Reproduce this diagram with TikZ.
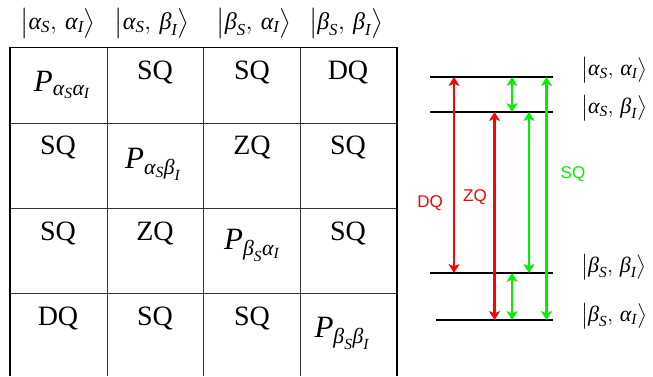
\documentclass[tikz,border=0pt]{standalone}
\usepackage{amsmath}
\usepackage{fontspec}
\setmainfont{Liberation Serif}
\newfontfamily\labelsans{Liberation Sans}
\usetikzlibrary{arrows.meta}
\definecolor{myred}{RGB}{255,0,0}
\definecolor{mygreen}{RGB}{0,240,0}
\newcommand{\myal}{\text{\itshape α}}
\newcommand{\mybe}{\text{\itshape β}}
\newcommand{\myS}{\text{\itshape S}}
\newcommand{\myI}{\text{\itshape I}}
\newcommand{\myP}{\text{\itshape P}}
\newcommand{\myket}[2]{\bigl|#1,\,#2\bigr\rangle}
\tikzset{
  cell/.style={inner sep=0pt, font=\fontsize{28}{32}\selectfont},
  pcell/.style={inner sep=0pt, font=\fontsize{31}{34}\selectfont},
  hket/.style={inner sep=0pt, font=\fontsize{24}{28}\selectfont},
  rket/.style={inner sep=0pt, font=\fontsize{22}{26}\selectfont},
  tlab/.style={inner sep=0pt, font=\labelsans\fontsize{17}{20}\selectfont},
  grid/.style={line width=0.9pt, black!80},
  outer/.style={line width=1.8pt, black},
  level/.style={line width=2pt, black},
  tr2/.style={line width=2.2pt, {Stealth[length=9pt,width=11pt,inset=2.5pt]}-{Stealth[length=9pt,width=11pt,inset=2.5pt]}},
}
\begin{document}
\begin{tikzpicture}[x=1pt,y=-1pt]
\useasboundingbox (0,0) rectangle (653,376);
% grid
\draw[grid] (107,48) -- (107,376);
\draw[grid] (203,48) -- (203,376);
\draw[grid] (300,48) -- (300,376);
\draw[grid] (10,123.5) -- (397,123.5);
\draw[grid] (10,208.5) -- (397,208.5);
\draw[grid] (10,293.5) -- (397,293.5);
\draw[outer] (10,376) -- (10,47.5) -- (397,47.5) -- (397,376);
% headers
\node[hket] (h1) at (58,23) {$\myket{\myal_\myS}{\myal_\myI}$};
\node[hket] (h2) at (152,23) {$\myket{\myal_\myS}{\mybe_\myI}$};
\node[hket] (h3) at (254,23) {$\myket{\mybe_\myS}{\myal_\myI}$};
\node[hket] (h4) at (346,23) {$\myket{\mybe_\myS}{\mybe_\myI}$};
% row 1
\node[pcell] (p11) at (62,85) {$\myP_{\myal_\myS\myal_\myI}$};
\node[cell] (c12) at (155,72) {SQ};
\node[cell] (c13) at (252,72) {SQ};
\node[cell] (c14) at (348,72) {DQ};
% row 2
\node[cell] (c21) at (58,147) {SQ};
\node[pcell] (p22) at (153,164) {$\myP_{\myal_\myS\mybe_\myI}$};
\node[cell] (c23) at (252,147) {ZQ};
\node[cell] (c24) at (348,147) {SQ};
% row 3
\node[cell] (c31) at (58,233) {SQ};
\node[cell] (c32) at (155,233) {ZQ};
\node[pcell] (p33) at (252,245) {$\myP_{\mybe_\myS\myal_\myI}$};
\node[cell] (c34) at (348,233) {SQ};
% row 4
\node[cell] (c41) at (58,318) {DQ};
\node[cell] (c42) at (155,318) {SQ};
\node[cell] (c43) at (252,318) {SQ};
\node[pcell] (p44) at (342,333) {$\myP_{\mybe_\myS\mybe_\myI}$};
% energy levels
\coordinate (L1a) at (430,77); \coordinate (L1b) at (553,77);
\coordinate (L2a) at (430,112); \coordinate (L2b) at (553,112);
\coordinate (L3a) at (430,273); \coordinate (L3b) at (553,273);
\coordinate (L4a) at (436,320); \coordinate (L4b) at (553,320);
\draw[level] (L1a) -- (L1b);
\draw[level] (L2a) -- (L2b);
\draw[level] (L3a) -- (L3b);
\draw[level] (L4a) -- (L4b);
\node[rket, anchor=west] (k1) at (581,70) {$\myket{\myal_\myS}{\myal_\myI}$};
\node[rket, anchor=west] (k2) at (581,108) {$\myket{\myal_\myS}{\mybe_\myI}$};
\node[rket, anchor=west] (k3) at (581,267) {$\myket{\mybe_\myS}{\mybe_\myI}$};
\node[rket, anchor=west] (k4) at (581,316) {$\myket{\mybe_\myS}{\myal_\myI}$};
% arrow columns
\coordinate (xDQ) at (454,0);
\coordinate (xZQ) at (494.5,0);
\coordinate (xG1) at (512,0);
\coordinate (xG2) at (529,0);
\coordinate (xG3) at (546.5,0);
\draw[tr2, myred] (xDQ |- L3a) -- (xDQ |- L1a);
\draw[tr2, myred] (xZQ |- L2a) -- (xZQ |- L4a);
\draw[tr2, mygreen] (xG1 |- L1a) -- (xG1 |- L2a);
\draw[tr2, mygreen] (xG2 |- L2a) -- (xG2 |- L3a);
\draw[tr2, mygreen] (xG3 |- L1a) -- (xG3 |- L4a);
\draw[tr2, mygreen] (xG1 |- L3a) -- (xG1 |- L4a);
\node[tlab, myred] (lDQ) at (430,203) {DQ};
\node[tlab, myred] (lZQ) at (475,197) {ZQ};
\node[tlab, mygreen] (lSQ) at (573,174) {SQ};
\end{tikzpicture}
\end{document}
